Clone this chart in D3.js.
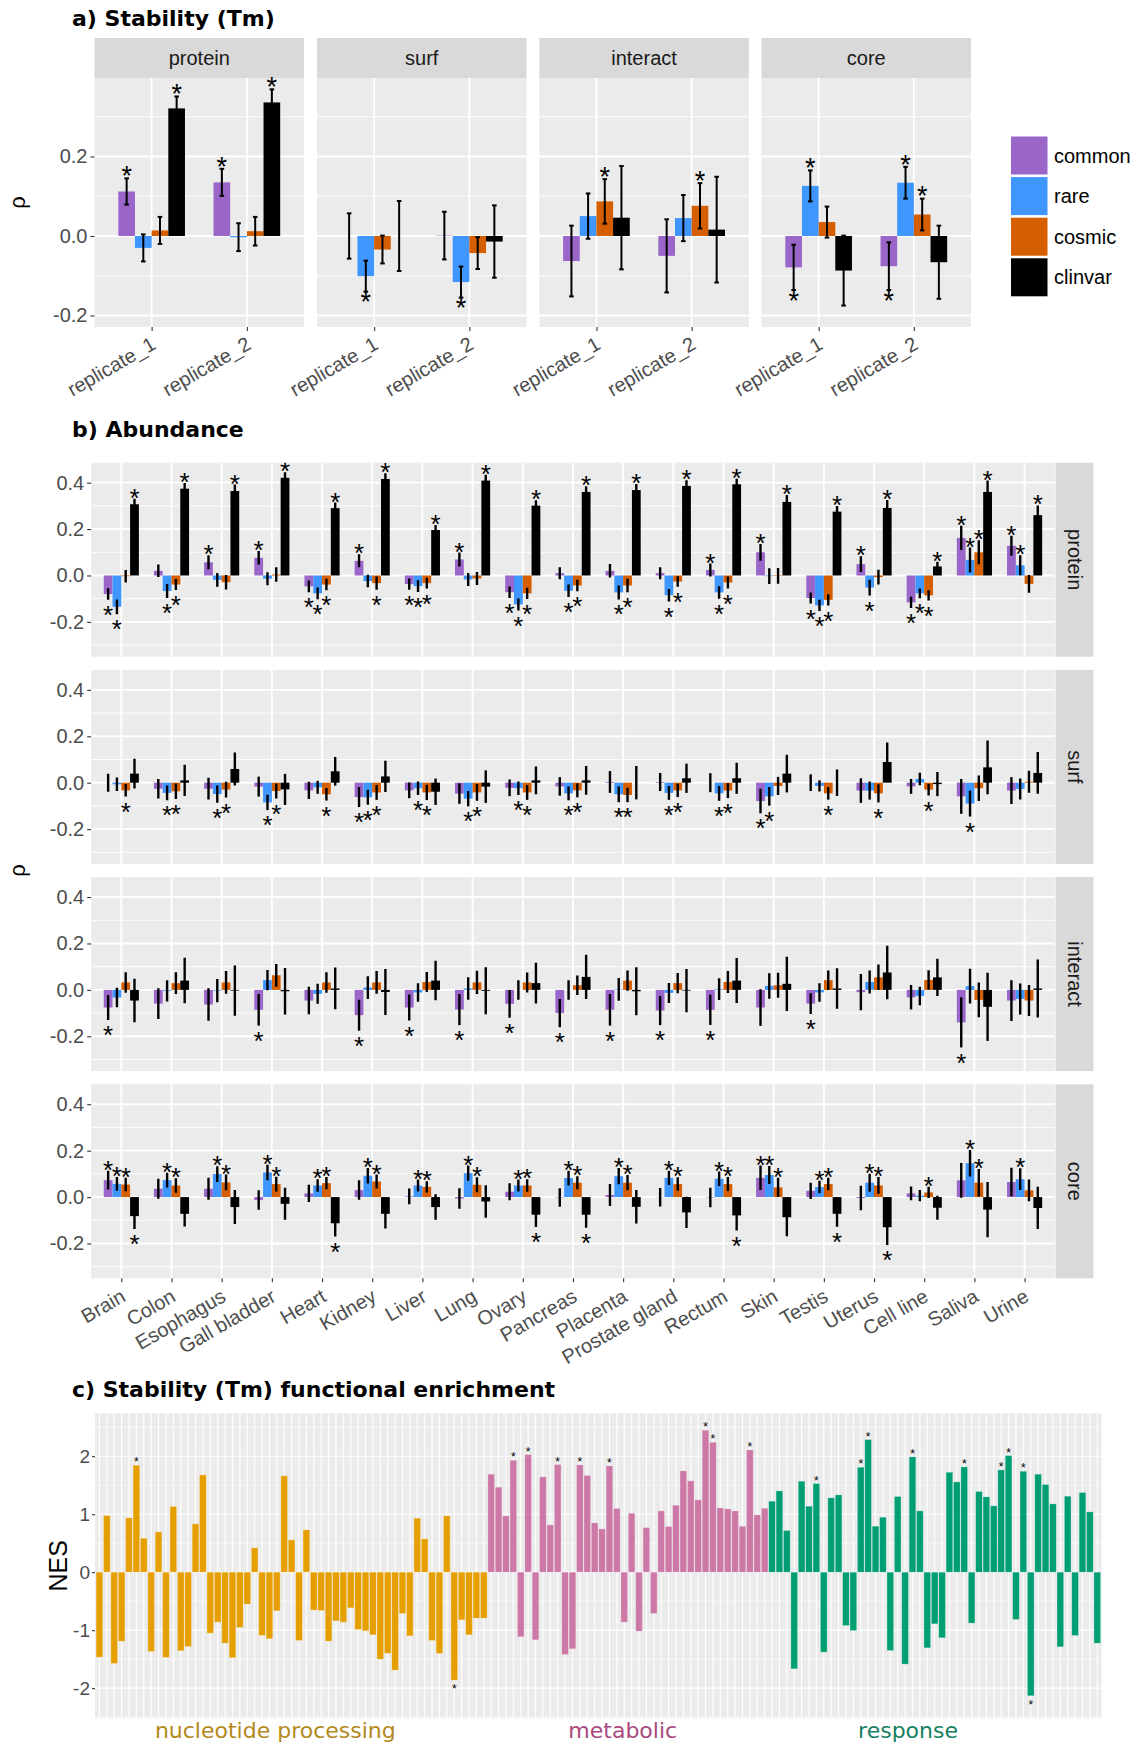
<!DOCTYPE html>
<html>
<head>
<meta charset="utf-8">
<script src="https://cdn.jsdelivr.net/npm/d3@7"></script>
<style>
body { margin: 0; background: #fff; }
svg text { font-family: "Liberation Sans", Arial, sans-serif; }
.title { font-family: "DejaVu Sans", sans-serif !important; font-weight: bold; font-size: 22px; }
</style>
</head>
<body>
<svg id="fig" width="1137" height="1744"></svg>
<script>
// ---- shared ----
const seriesNames = ['common', 'rare', 'cosmic', 'clinvar'];
const seriesColors = ['#9A66CA', '#3F96FF', '#D55E00', '#000000'];

// ---- a) Stability (Tm): [series][replicate] ----
const replicates = ['replicate_1', 'replicate_2'];
const tmFeatures = ['protein', 'surf', 'interact', 'core'];
const tmProtein = [[0.112, 0.135], [-0.030, -0.003], [0.014, 0.012], [0.321, 0.336]];
const tmProteinCi = [[0.033, 0.034], [0.034, 0.035], [0.034, 0.036], [0.030, 0.033]];
const tmProteinSig = [[1, 1], [0, 0], [0, 0], [1, 1]];
const tmSurf = [[0.0, 0.001], [-0.101, -0.116], [-0.034, -0.043], [0.0, -0.014]];
const tmSurfCi = [[0.057, 0.060], [0.039, 0.039], [0.035, 0.040], [0.088, 0.091]];
const tmSurfSig = [[0, 0], [1, 1], [0, 0], [0, 0]];
const tmInteract = [[-0.063, -0.050], [0.050, 0.045], [0.087, 0.076], [0.046, 0.016]];
const tmInteractCi = [[0.089, 0.092], [0.057, 0.058], [0.056, 0.057], [0.130, 0.133]];
const tmInteractSig = [[0, 0], [0, 0], [1, 1], [0, 0]];
const tmCore = [[-0.079, -0.076], [0.126, 0.134], [0.035, 0.054], [-0.087, -0.066]];
const tmCoreCi = [[0.057, 0.060], [0.039, 0.040], [0.039, 0.040], [0.088, 0.092]];
const tmCoreSig = [[1, 1], [1, 1], [0, 1], [0, 0]];

// ---- b) Abundance: [series][tissue] ----
const tissues = ['Brain', 'Colon', 'Esophagus', 'Gall bladder', 'Heart', 'Kidney', 'Liver', 'Lung', 'Ovary',
  'Pancreas', 'Placenta', 'Prostate gland', 'Rectum', 'Skin', 'Testis', 'Uterus', 'Cell line', 'Saliva', 'Urine'];
const abFeatures = ['protein', 'surf', 'interact', 'core'];

const proteinRho = [
  [-0.080, 0.020, 0.057, 0.076, -0.047, 0.063, -0.037, 0.069, -0.072, 0.010, 0.020, 0.010, 0.024, 0.100, -0.097, 0.049, -0.116, 0.162, 0.128],
  [-0.135, -0.067, -0.019, -0.014, -0.077, -0.024, -0.046, -0.017, -0.125, -0.066, -0.073, -0.085, -0.073, -0.003, -0.129, -0.052, -0.077, 0.067, 0.044],
  [-0.003, -0.039, -0.029, 0.004, -0.039, -0.033, -0.033, -0.013, -0.077, -0.043, -0.043, -0.026, -0.030, -0.002, -0.105, -0.007, -0.086, 0.100, -0.036],
  [0.307, 0.374, 0.364, 0.421, 0.290, 0.416, 0.196, 0.409, 0.301, 0.360, 0.368, 0.386, 0.393, 0.317, 0.275, 0.291, 0.039, 0.360, 0.260]];
const proteinCi = [
  [0.025, 0.027, 0.030, 0.029, 0.025, 0.028, 0.024, 0.030, 0.025, 0.026, 0.029, 0.026, 0.028, 0.036, 0.024, 0.034, 0.024, 0.052, 0.043],
  [0.032, 0.030, 0.030, 0.028, 0.025, 0.027, 0.025, 0.028, 0.026, 0.027, 0.030, 0.027, 0.027, 0.034, 0.024, 0.034, 0.021, 0.054, 0.043],
  [0.027, 0.024, 0.031, 0.031, 0.025, 0.029, 0.023, 0.028, 0.024, 0.025, 0.029, 0.023, 0.026, 0.034, 0.024, 0.032, 0.022, 0.052, 0.038],
  [0.024, 0.024, 0.028, 0.024, 0.024, 0.025, 0.022, 0.025, 0.023, 0.024, 0.026, 0.024, 0.024, 0.030, 0.024, 0.034, 0.020, 0.049, 0.042]];
const proteinSig = [
  [1, 0, 1, 1, 1, 1, 1, 1, 1, 0, 0, 0, 1, 1, 1, 1, 1, 1, 1],
  [1, 1, 0, 0, 1, 0, 1, 0, 1, 1, 1, 1, 1, 0, 1, 1, 1, 1, 1],
  [0, 1, 0, 0, 1, 1, 1, 0, 1, 1, 1, 1, 1, 0, 1, 0, 1, 1, 0],
  [1, 1, 1, 1, 1, 1, 1, 1, 1, 1, 1, 1, 1, 1, 1, 1, 1, 1, 1]];

const surfRho = [
  [0.0, -0.026, -0.026, -0.017, -0.033, -0.062, -0.033, -0.047, -0.022, -0.016, 0.003, 0.003, 0.0, -0.079, 0.0, -0.034, -0.016, -0.059, -0.034],
  [-0.007, -0.044, -0.049, -0.085, -0.020, -0.063, -0.024, -0.069, -0.024, -0.046, -0.050, -0.044, -0.046, -0.059, -0.014, -0.034, 0.016, -0.090, -0.027],
  [-0.033, -0.037, -0.030, -0.036, -0.050, -0.042, -0.042, -0.042, -0.042, -0.033, -0.053, -0.033, -0.034, -0.014, -0.046, -0.046, -0.030, -0.024, 0.004],
  [0.039, 0.010, 0.059, -0.029, 0.049, 0.027, -0.039, -0.017, 0.010, 0.010, 0.0, 0.019, 0.019, 0.039, 0.0, 0.089, -0.006, 0.066, 0.042]];
const surfCi = [
  [0.039, 0.042, 0.047, 0.043, 0.037, 0.043, 0.034, 0.044, 0.036, 0.040, 0.047, 0.039, 0.041, 0.053, 0.036, 0.053, 0.032, 0.075, 0.058],
  [0.029, 0.032, 0.037, 0.033, 0.028, 0.032, 0.029, 0.033, 0.029, 0.030, 0.034, 0.030, 0.032, 0.040, 0.024, 0.039, 0.027, 0.056, 0.045],
  [0.027, 0.033, 0.034, 0.032, 0.027, 0.032, 0.033, 0.036, 0.032, 0.030, 0.031, 0.029, 0.032, 0.039, 0.027, 0.039, 0.025, 0.055, 0.047],
  [0.064, 0.067, 0.071, 0.067, 0.062, 0.067, 0.057, 0.070, 0.060, 0.062, 0.072, 0.063, 0.067, 0.081, 0.057, 0.084, 0.052, 0.116, 0.090]];
const surfSig = [
  [0, 0, 0, 0, 0, 1, 0, 0, 0, 0, 0, 0, 0, 1, 0, 0, 0, 0, 0],
  [0, 1, 1, 1, 0, 1, 1, 1, 1, 1, 1, 1, 1, 1, 0, 0, 0, 1, 0],
  [1, 1, 1, 1, 1, 1, 1, 1, 1, 1, 1, 1, 1, 0, 1, 1, 1, 0, 0],
  [0, 0, 0, 0, 0, 0, 0, 0, 0, 0, 0, 0, 0, 0, 0, 0, 0, 0, 0]];

const interactRho = [
  [-0.076, -0.059, -0.063, -0.086, -0.046, -0.109, -0.076, -0.085, -0.060, -0.100, -0.086, -0.089, -0.086, -0.076, -0.059, -0.010, -0.032, -0.140, -0.046],
  [-0.033, -0.004, -0.003, 0.042, -0.017, 0.010, -0.011, 0.006, 0.0, 0.0, 0.002, -0.013, 0.003, 0.017, -0.011, 0.034, -0.026, 0.016, -0.039],
  [0.032, 0.029, 0.032, 0.063, 0.032, 0.032, 0.034, 0.032, 0.032, 0.020, 0.040, 0.029, 0.034, 0.020, 0.042, 0.054, 0.043, -0.043, -0.046],
  [-0.046, 0.040, -0.003, -0.006, 0.006, -0.009, 0.040, -0.004, 0.029, 0.056, -0.006, -0.003, 0.040, 0.026, 0.006, 0.075, 0.054, -0.073, 0.006]];
const interactCi = [
  [0.054, 0.066, 0.070, 0.068, 0.059, 0.067, 0.056, 0.067, 0.060, 0.061, 0.068, 0.063, 0.065, 0.079, 0.045, 0.078, 0.053, 0.108, 0.088],
  [0.042, 0.046, 0.050, 0.044, 0.043, 0.049, 0.040, 0.048, 0.042, 0.042, 0.049, 0.043, 0.047, 0.055, 0.040, 0.050, 0.040, 0.075, 0.067],
  [0.044, 0.047, 0.049, 0.049, 0.044, 0.049, 0.043, 0.050, 0.043, 0.042, 0.044, 0.044, 0.047, 0.054, 0.042, 0.055, 0.042, 0.075, 0.067],
  [0.094, 0.098, 0.108, 0.100, 0.090, 0.099, 0.085, 0.101, 0.088, 0.095, 0.103, 0.093, 0.097, 0.117, 0.087, 0.115, 0.080, 0.147, 0.125]];
const interactSig = [
  [1, 0, 0, 1, 0, 1, 1, 1, 1, 1, 1, 1, 1, 0, 1, 0, 0, 1, 0],
  [0, 0, 0, 0, 0, 0, 0, 0, 0, 0, 0, 0, 0, 0, 0, 0, 0, 0, 0],
  [0, 0, 0, 0, 0, 0, 0, 0, 0, 0, 0, 0, 0, 0, 0, 0, 0, 0, 0],
  [0, 0, 0, 0, 0, 0, 0, 0, 0, 0, 0, 0, 0, 0, 0, 0, 0, 0, 0]];

const coreRho = [
  [0.073, 0.036, 0.036, -0.013, 0.016, 0.030, 0.003, -0.006, 0.023, -0.002, 0.009, -0.001, -0.002, 0.083, 0.027, -0.004, 0.016, 0.072, 0.065],
  [0.057, 0.073, 0.099, 0.106, 0.050, 0.092, 0.050, 0.103, 0.050, 0.082, 0.090, 0.083, 0.079, 0.095, 0.043, 0.062, 0.006, 0.146, 0.077],
  [0.054, 0.050, 0.063, 0.056, 0.060, 0.067, 0.044, 0.053, 0.050, 0.062, 0.062, 0.056, 0.056, 0.042, 0.056, 0.050, 0.020, 0.062, 0.029],
  [-0.082, -0.072, -0.043, -0.029, -0.113, -0.072, -0.043, -0.019, -0.076, -0.076, -0.042, -0.066, -0.079, -0.087, -0.072, -0.130, -0.046, -0.054, -0.047]];
const coreCi = [
  [0.040, 0.043, 0.047, 0.042, 0.037, 0.042, 0.034, 0.044, 0.037, 0.040, 0.047, 0.040, 0.042, 0.053, 0.035, 0.053, 0.030, 0.075, 0.061],
  [0.030, 0.032, 0.034, 0.033, 0.027, 0.033, 0.026, 0.033, 0.026, 0.032, 0.035, 0.031, 0.031, 0.039, 0.027, 0.039, 0.024, 0.057, 0.047],
  [0.029, 0.031, 0.034, 0.032, 0.026, 0.030, 0.024, 0.032, 0.027, 0.028, 0.033, 0.029, 0.030, 0.041, 0.027, 0.036, 0.024, 0.059, 0.047],
  [0.056, 0.055, 0.073, 0.069, 0.057, 0.063, 0.055, 0.070, 0.053, 0.056, 0.072, 0.067, 0.065, 0.082, 0.056, 0.077, 0.052, 0.119, 0.091]];
const coreSig = [
  [1, 0, 0, 0, 0, 0, 0, 0, 0, 0, 0, 0, 0, 1, 0, 0, 0, 0, 0],
  [1, 1, 1, 1, 1, 1, 1, 1, 1, 1, 1, 1, 1, 1, 1, 1, 0, 1, 1],
  [1, 1, 1, 1, 1, 1, 1, 1, 1, 1, 1, 1, 1, 1, 1, 1, 1, 1, 0],
  [1, 0, 0, 0, 1, 0, 0, 0, 1, 1, 0, 0, 1, 0, 1, 1, 0, 0, 0]];

// ---- c) functional enrichment ----
const nesNucleotide = [-1.466, 0.977, -1.575, -1.19, 0.937, 1.845, 0.586, -1.368, 0.695, -1.471,
  1.132, -1.356, -1.282, 0.833, 1.678, -1.052, -0.862, -1.224, -1.477, -0.954,
  -0.552, 0.420, -1.092, -1.149, -0.667, 1.661, 0.557, -1.178, 0.730, -0.655,
  -0.661, -1.190, -0.839, -0.862, -0.615, -0.989, -1.011, -1.080, -1.500, -1.397,
  -1.690, -0.713, -1.098, 0.931, 0.575, -1.178, -1.402, 0.971, -1.862, -0.822,
  -1.080, -0.793, -0.793];
const nesMetabolic = [1.690, 1.466, 0.971, 1.931, -1.115, 2.029, -1.167, 1.644, 0.816, 1.856,
  -1.420, -1.322, 1.851, 1.667, 0.851, 0.747, 1.833, 1.098, -0.862, 1.017,
  -1.017, 0.770, -0.713, 1.057, 0.787, 1.155, 1.747, 1.575, 1.247, 2.448,
  2.241, 1.109, 1.092, 1.057, 0.793, 2.109, 0.989, 1.103];
const nesResponse = [1.224, 1.402, 0.718, -1.667, 1.569, 1.138, 1.529, -1.379, 1.282, 1.333,
  -0.920, -1.006, 1.810, 2.287, 0.793, 0.948, -1.351, 1.305, -1.586, 1.989,
  1.057, -1.305, -0.891, -1.132, 1.724, 1.557, 1.816, -0.879, 1.391, 1.299,
  1.144, 1.764, 2.011, -0.816, 1.741, -2.132, 1.690, 1.511, 1.178, -1.287,
  1.310, -1.092, 1.374, 1.040, -1.224];
const nesSigIndex = [6, 49, 57, 59, 63, 66, 70, 83, 84, 89, 98, 104, 105, 111, 118, 123, 124, 126, 127];
const nesGroupNames = ['nucleotide processing', 'metabolic', 'response'];
const nesGroupFill = ['#E69F00', '#CC79A7', '#009E73'];
const nesGroupText = ['#B3891B', '#A8497F', '#16805F'];
const nesGroupLabelAt = [24.8, 71.8, 110.4];

const svg = d3.select('#fig');
const PANEL_BG = '#EBEBEB', STRIP_BG = '#D9D9D9';
const fmt1 = d => d.toFixed(1);   // plain hyphen minus, as in the original

function styleAxis(a, fs) {
  a.attr('font-size', null).attr('font-family', null);
  a.select('.domain').remove();
  a.selectAll('line').attr('stroke', '#333').attr('stroke-width', 1.1);
  a.selectAll('text').attr('fill', '#4D4D4D').style('font-size', fs + 'px');
}

function hGrid(g, y, x0, x1, majors, minors, wMaj, wMin) {
  g.selectAll(null).data(minors).enter().append('line')
    .attr('x1', x0).attr('x2', x1).attr('y1', d => y(d)).attr('y2', d => y(d))
    .attr('stroke', '#fff').attr('stroke-width', wMin);
  g.selectAll(null).data(majors).enter().append('line')
    .attr('x1', x0).attr('x2', x1).attr('y1', d => y(d)).attr('y2', d => y(d))
    .attr('stroke', '#fff').attr('stroke-width', wMaj);
}

// star glyph centred on (x, y)
function star(g, x, y, fs) {
  g.append('text').attr('x', x).attr('y', y).attr('dy', '0.6em')
    .attr('text-anchor', 'middle').style('font-size', fs + 'px')
    .attr('fill', '#000').text('*');
}

// dodged bars + error bars, 4 series per category
const dodge = [-0.2625, -0.0875, 0.0875, 0.2625];
const barW = 0.175;
function drawDodged(g, x, y, rho, ci, sig, opt) {
  rho.forEach((vals, s) => {
    vals.forEach((v, i) => {
      const c = i + 1 + dodge[s];
      g.append('rect')
        .attr('x', x(c - barW / 2)).attr('width', x(c + barW / 2) - x(c - barW / 2))
        .attr('y', y(Math.max(v, 0))).attr('height', Math.abs(y(v) - y(0)))
        .attr('fill', seriesColors[s]);
    });
  });
  rho.forEach((vals, s) => {
    vals.forEach((v, i) => {
      const c = x(i + 1 + dodge[s]);
      const lo = v - ci[s][i], hi = v + ci[s][i];
      g.append('line').attr('x1', c).attr('x2', c).attr('y1', y(lo)).attr('y2', y(hi))
        .attr('stroke', '#000').attr('stroke-width', opt.ew);
      if (opt.cap) {
        [lo, hi].forEach(e => g.append('line').attr('x1', c - opt.cap).attr('x2', c + opt.cap)
          .attr('y1', y(e)).attr('y2', y(e)).attr('stroke', '#000').attr('stroke-width', opt.ew));
      }
      if (sig[s][i]) {
        if (v >= 0) star(g, c, y(hi) - opt.up, opt.fs);
        else star(g, c, y(lo) + opt.down, opt.fs);
      }
    });
  });
}

// ================= a) =================
svg.append('text').attr('class', 'title').attr('x', 72).attr('y', 26).text('a) Stability (Tm)');
const aTop = 78, aH = 249, aW = 209.5, aLefts = [94.5, 317, 539.3, 761.5];
const aY = d3.scaleLinear().domain([-0.229, 0.3975]).range([aTop + aH, aTop]);
const tmData = [[tmProtein, tmProteinCi, tmProteinSig], [tmSurf, tmSurfCi, tmSurfSig],
  [tmInteract, tmInteractCi, tmInteractSig], [tmCore, tmCoreCi, tmCoreSig]];

tmFeatures.forEach((f, k) => {
  const left = aLefts[k];
  const x = d3.scaleLinear().domain([0.4, 2.6]).range([left, left + aW]);
  const g = svg.append('g');
  g.append('rect').attr('x', left).attr('y', 38).attr('width', aW).attr('height', 40).attr('fill', STRIP_BG);
  g.append('text').attr('x', left + aW / 2).attr('y', 58).attr('dy', '0.35em').attr('text-anchor', 'middle')
    .attr('fill', '#1A1A1A').style('font-size', '20px').text(f);
  g.append('rect').attr('x', left).attr('y', aTop).attr('width', aW).attr('height', aH).attr('fill', PANEL_BG);
  hGrid(g, aY, left, left + aW, [-0.2, 0, 0.2], [-0.1, 0.1, 0.3], 1.9, 0.9);
  g.selectAll(null).data([1, 2]).enter().append('line')
    .attr('x1', d => x(d)).attr('x2', d => x(d)).attr('y1', aTop).attr('y2', aTop + aH)
    .attr('stroke', '#fff').attr('stroke-width', 1.9);
  drawDodged(g, x, aY, tmData[k][0], tmData[k][1], tmData[k][2], { ew: 2, cap: 2.3, up: 9.5, down: 3.5, fs: 27 });
  const xa = g.append('g').attr('transform', `translate(0,${aTop + aH})`)
    .call(d3.axisBottom(x).tickValues([1, 2]).tickFormat(d => replicates[d - 1]).tickSize(4));
  styleAxis(xa, 20);
  xa.selectAll('text').attr('x', 0).attr('y', 0).attr('dy', 0).attr('text-anchor', 'end')
    .attr('transform', 'translate(5,21) rotate(-30)');
});
const aya = svg.append('g').attr('transform', `translate(${aLefts[0]},0)`)
  .call(d3.axisLeft(aY).tickValues([-0.2, 0, 0.2]).tickFormat(fmt1).tickSize(4).tickPadding(3));
styleAxis(aya, 20);
svg.append('text').attr('transform', `translate(25,${aTop + aH / 2}) rotate(-90)`).attr('text-anchor', 'middle')
  .style('font-size', '22px').text('ρ');

// legend
const lg = svg.append('g');
seriesNames.forEach((s, i) => {
  const y0 = 136.5 + i * 40.6;
  lg.append('rect').attr('x', 1011).attr('y', y0).attr('width', 36.5).attr('height', 38).attr('fill', seriesColors[i]);
  lg.append('text').attr('x', 1054).attr('y', y0 + 19).attr('dy', '0.35em').style('font-size', '20px')
    .attr('fill', '#000').text(s);
});

// ================= b) =================
svg.append('text').attr('class', 'title').attr('x', 72).attr('y', 437).text('b) Abundance');
const bLeft = 91.2, bRight = 1054.7, bH = 194, bTops = [462.7, 669.9, 877.1, 1084.3];
const bX = d3.scaleLinear().domain([0.4, tissues.length + 0.6]).range([bLeft, bRight]);
const abData = [[proteinRho, proteinCi, proteinSig], [surfRho, surfCi, surfSig],
  [interactRho, interactCi, interactSig], [coreRho, coreCi, coreSig]];
const defs = svg.append('defs');

abFeatures.forEach((f, r) => {
  const top = bTops[r];
  const y = d3.scaleLinear().domain([-0.35, 0.486]).range([top + bH, top]);
  defs.append('clipPath').attr('id', 'clipb' + r).append('rect')
    .attr('x', bLeft).attr('y', top).attr('width', bRight - bLeft).attr('height', bH);
  const g = svg.append('g');
  g.append('rect').attr('x', bLeft).attr('y', top).attr('width', bRight - bLeft).attr('height', bH).attr('fill', PANEL_BG);
  hGrid(g, y, bLeft, bRight, [-0.2, 0, 0.2, 0.4], [-0.3, -0.1, 0.1, 0.3], 1.9, 0.9);
  g.selectAll(null).data(d3.range(1, tissues.length + 1)).enter().append('line')
    .attr('x1', d => bX(d)).attr('x2', d => bX(d)).attr('y1', top).attr('y2', top + bH)
    .attr('stroke', '#fff').attr('stroke-width', 1.9);
  const inner = g.append('g').attr('clip-path', `url(#clipb${r})`);
  drawDodged(inner, bX, y, abData[r][0], abData[r][1], abData[r][2], { ew: 2.4, cap: 0, up: 7.5, down: 8.5, fs: 26 });
  // strip
  g.append('rect').attr('x', bRight + 0.8).attr('y', top).attr('width', 38).attr('height', bH).attr('fill', STRIP_BG);
  g.append('text').attr('transform', `translate(${bRight + 19.8},${top + bH / 2}) rotate(90)`)
    .attr('text-anchor', 'middle').attr('dy', '0.35em').attr('fill', '#1A1A1A').style('font-size', '20px').text(f);
  const ya = g.append('g').attr('transform', `translate(${bLeft},0)`)
    .call(d3.axisLeft(y).tickValues([-0.2, 0, 0.2, 0.4]).tickFormat(fmt1).tickSize(4).tickPadding(3));
  styleAxis(ya, 20);
  if (r === abFeatures.length - 1) {
    const xa = g.append('g').attr('transform', `translate(0,${top + bH})`)
      .call(d3.axisBottom(bX).tickValues(d3.range(1, tissues.length + 1)).tickFormat(d => tissues[d - 1]).tickSize(4));
    styleAxis(xa, 20);
    xa.selectAll('text').attr('x', 0).attr('y', 0).attr('dy', 0).attr('text-anchor', 'end')
      .attr('transform', 'translate(5,22) rotate(-30)');
  }
});
svg.append('text').attr('transform', `translate(25,${(bTops[0] + bTops[3] + bH) / 2}) rotate(-90)`)
  .attr('text-anchor', 'middle').style('font-size', '22px').text('ρ');

// ================= c) =================
svg.append('text').attr('class', 'title').attr('x', 72).attr('y', 1397).text('c) Stability (Tm) functional enrichment');
const nesAll = [nesNucleotide, nesMetabolic, nesResponse];
const nesValues = [].concat(...nesAll);
const nesGroupOf = [].concat(...nesAll.map((arr, gi) => arr.map(() => gi)));
const cTop = 1413.3, cBot = 1718.3, cLeft = 95, cRight = 1101.7;
const cY = d3.scaleLinear().domain([-2.52, 2.74]).range([cBot, cTop]);
const cX = d3.scaleLinear().domain([0.4, nesValues.length + 0.6]).range([cLeft, cRight]);
const gc = svg.append('g');
gc.append('rect').attr('x', cLeft).attr('y', cTop).attr('width', cRight - cLeft).attr('height', cBot - cTop).attr('fill', PANEL_BG);
hGrid(gc, cY, cLeft, cRight, [-2, -1, 0, 1, 2], [-2.5, -1.5, -0.5, 0.5, 1.5, 2.5], 1.1, 0.6);
gc.selectAll(null).data(d3.range(1, nesValues.length + 1)).enter().append('line')
  .attr('x1', d => cX(d)).attr('x2', d => cX(d)).attr('y1', cTop).attr('y2', cBot)
  .attr('stroke', '#fff').attr('stroke-width', 1.1);
gc.selectAll(null).data(nesValues).enter().append('rect')
  .attr('x', (d, i) => cX(i + 1 - 0.45)).attr('width', cX(1.45) - cX(0.55))
  .attr('y', d => cY(Math.max(d, 0))).attr('height', d => Math.abs(cY(d) - cY(0)))
  .attr('fill', (d, i) => nesGroupFill[nesGroupOf[i]])
  .attr('stroke', 'rgba(255,255,255,0.35)').attr('stroke-width', 0.7);
nesSigIndex.forEach(k => {
  const v = nesValues[k - 1];
  star(gc, cX(k), v >= 0 ? cY(v) - 6 : cY(v) + 6, 12);
});
const cya = gc.append('g').attr('transform', `translate(${cLeft},0)`)
  .call(d3.axisLeft(cY).tickValues([-2, -1, 0, 1, 2]).tickFormat(d => String(d)).tickSize(3).tickPadding(2));
styleAxis(cya, 19);
svg.append('text').attr('transform', `translate(58,${(cTop + cBot) / 2}) rotate(-90)`)
  .attr('text-anchor', 'middle').attr('dy', '0.35em').style('font-size', '25px').text('NES');
nesGroupNames.forEach((n, i) => {
  svg.append('text').attr('x', cX(nesGroupLabelAt[i])).attr('y', 1738).attr('text-anchor', 'middle')
    .style('font-family', 'DejaVu Sans').style('font-size', '22px').attr('fill', nesGroupText[i]).text(n);
});
</script>
</body>
</html>
